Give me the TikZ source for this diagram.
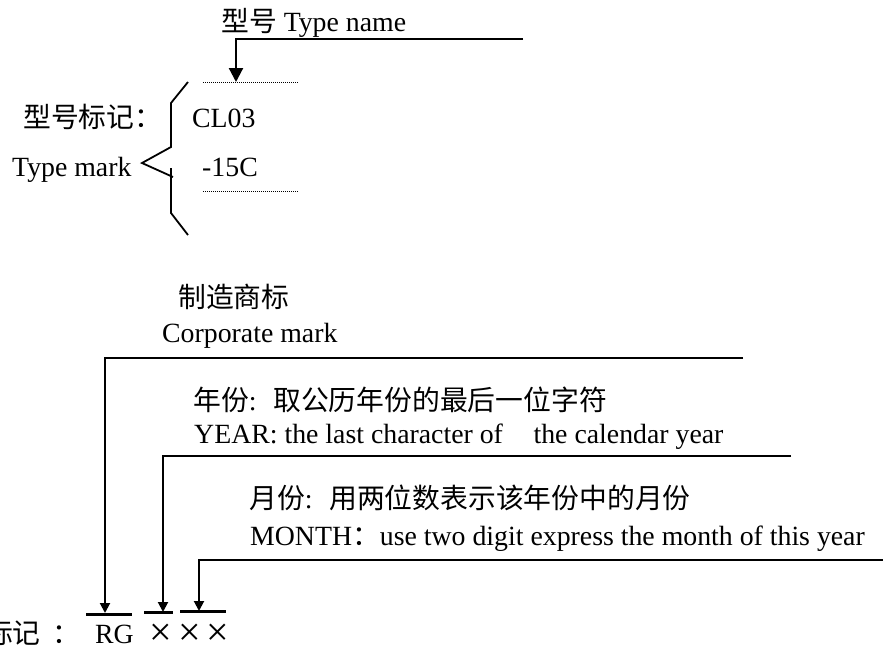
\documentclass[tikz,border=0pt]{standalone}
\usepackage{fontspec}
\setmainfont{Liberation Serif}
\newfontfamily\cjk{Noto Sans CJK SC}
\usetikzlibrary{arrows.meta}
\begin{document}
\begin{tikzpicture}[x=1pt,y=-1pt,
  txt/.style={anchor=base west, inner sep=0pt, font=\fontsize{27.8}{30}\selectfont},
  crs/.style={anchor=base, inner sep=0pt, font=\fontsize{40}{40}\selectfont},
  ln/.style={line width=1.9pt, line join=miter},
  arr/.style={line width=2pt, line join=miter, -{Triangle[width=10pt,length=10pt]}},
  bigarr/.style={line width=2.2pt, line join=miter, -{Triangle[width=14pt,length=14pt]}},
  barline/.style={line width=3pt},
  dots/.style={line width=0.9pt, dash pattern=on 0.9pt off 1.1pt},
  bracel/.style={line width=1.8pt, line join=miter}]
\useasboundingbox (0,0) rectangle (883,653);

% ---------- type name ----------
\node[txt] (tname) at (221,31) {{\cjk 型号} Type name};
\coordinate (tR) at (523,39);
\coordinate (tC) at (236,39);
\coordinate (tT) at (236,82);
\draw[bigarr] (tR) -- (tC) -- (tT);
\coordinate (d1a) at (203,82);
\coordinate (d1b) at (298,82);
\coordinate (d2a) at (203,191);
\coordinate (d2b) at (298,191);
\draw[dots] (d1a) -- (d1b);
\draw[dots] (d2a) -- (d2b);

% brace
\coordinate (b1) at (188,82);
\coordinate (b2) at (171,103);
\coordinate (b3) at (171,147);
\coordinate (b4) at (142,163);
\coordinate (b5) at (173,177);
\coordinate (b6) at (171,168);
\coordinate (b7) at (171,213);
\coordinate (b8) at (188,235);
\draw[bracel] (b1) -- (b2) -- (b3) -- (b4) -- (b5);
\draw[bracel] (b6) -- (b7) -- (b8);

\node[txt] (tmcn) at (23,127) {\cjk 型号标记：};
\node[txt] (cl) at (192,127) {CL03};
\node[txt] (tmen) at (12,176) {Type mark};
\node[txt] (c15) at (202,176) {-15C};

% ---------- corporate mark ----------
\node[txt] (corpcn) at (178,307) {\cjk 制造商标};
\node[txt] (corpen) at (162,342) {Corporate mark};
\coordinate (cR) at (743,358);
\coordinate (cC) at (105,358);
\coordinate (cT) at (105,613);
\draw[arr] (cR) -- (cC) -- (cT);

% ---------- year ----------
\node[txt] (yearcn) at (193,410) {{\cjk 年份}:\hspace{0.6em}{\cjk 取公历年份的最后一位字符}};
\node[txt] (yearen) at (194,443) {YEAR: the last character of\hspace{0.85em} the calendar year};
\coordinate (yR) at (791,456);
\coordinate (yC) at (163,456);
\coordinate (yT) at (163,612);
\draw[arr] (yR) -- (yC) -- (yT);

% ---------- month ----------
\node[txt] (moncn) at (249,508) {{\cjk 月份}:\hspace{0.6em}{\cjk 用两位数表示该年份中的月份}};
\node[txt] (monen) at (250,545) {MONTH{\cjk ：}use two digit express the month of this year};
\coordinate (mR) at (895,560);
\coordinate (mC) at (199,560);
\coordinate (mT) at (199,611);
\draw[arr] (mR) -- (mC) -- (mT);

% ---------- bars ----------
\coordinate (r1a) at (86,614);
\coordinate (r1b) at (132,614);
\coordinate (r2a) at (144,612);
\coordinate (r2b) at (173,612);
\coordinate (r3a) at (180,611);
\coordinate (r3b) at (226,611);
\draw[barline] (r1a) -- (r1b);
\draw[barline] (r2a) -- (r2b);
\draw[barline] (r3a) -- (r3b);

% ---------- bottom label ----------
\node[txt] (bjcn) at (-15,643) {\cjk 标记};
\node[txt] (bjcol) at (52,643) {\cjk ：};
\node[txt] (rg) at (95,643) {RG};
\node[crs] (x1) at (161,645) {×};
\node[crs] (x2) at (190,645) {×};
\node[crs] (x3) at (218,645) {×};
\end{tikzpicture}
\end{document}
